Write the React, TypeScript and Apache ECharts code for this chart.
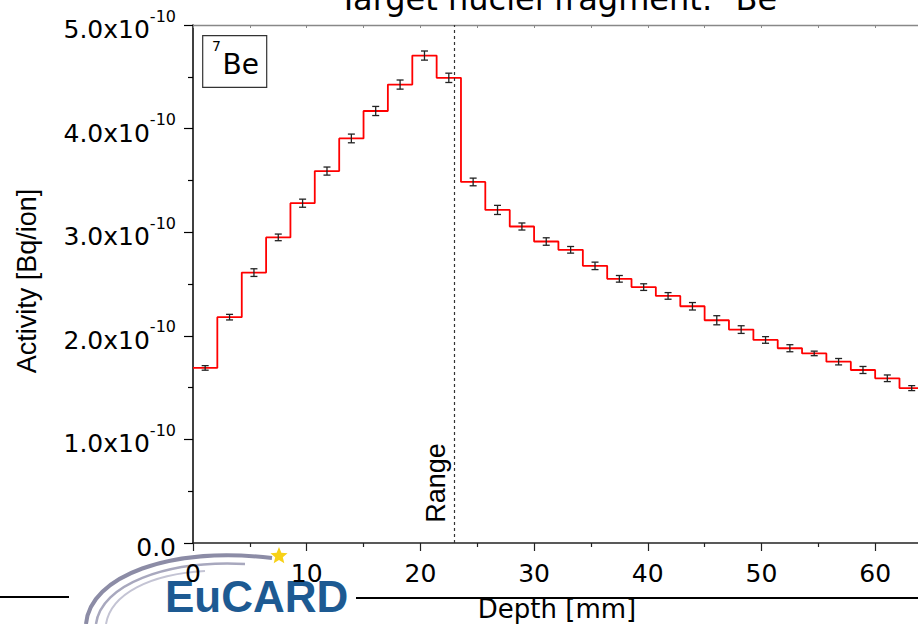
import React, { useEffect, useRef } from "react";
import * as echarts from "echarts";

// Bin edges along depth [mm]
const EDGES = [0, 2.14, 4.29, 6.43, 8.57, 10.71, 12.86, 15.0, 17.14, 19.29, 21.43, 23.57, 25.71, 27.86, 30.0, 32.14, 34.29, 36.43, 38.57, 40.71, 42.86, 45.0, 47.14, 49.29, 51.43, 53.57, 55.71, 57.86, 60.0, 62.14, 64.29];
// Activity per bin, in units of 1e-10 Bq/ion
const VALUES = [1.69, 2.18, 2.61, 2.95, 3.28, 3.59, 3.905, 4.17, 4.425, 4.705, 4.49, 3.485, 3.215, 3.055, 2.91, 2.83, 2.675, 2.55, 2.47, 2.385, 2.285, 2.15, 2.06, 1.96, 1.88, 1.83, 1.75, 1.67, 1.59, 1.495];
// Error (half-width), same units
const ERRORS = [0.022, 0.027, 0.037, 0.032, 0.039, 0.039, 0.042, 0.044, 0.044, 0.044, 0.045, 0.037, 0.044, 0.034, 0.036, 0.032, 0.036, 0.032, 0.032, 0.032, 0.036, 0.044, 0.037, 0.032, 0.034, 0.022, 0.031, 0.034, 0.032, 0.024];
const RANGE_DEPTH = 23;
const TITLE = "Target nuclei fragment: ";
const NUCLIDE_MASS = "7";
const NUCLIDE = "Be";

const SANS = "'DejaVu Sans', sans-serif";
const ARIAL = "'Liberation Sans', Arial, sans-serif";

function starPoints(cx: number, cy: number, ro: number, ri: number) {
  const pts: number[][] = [];
  for (let k = 0; k < 10; k++) {
    const r = k % 2 === 0 ? ro : ri;
    const a = -Math.PI / 2 + (k * Math.PI) / 5;
    pts.push([cx + r * Math.cos(a), cy + r * Math.sin(a)]);
  }
  return pts;
}

export default function App() {
  const ref = useRef<HTMLDivElement>(null);
  useEffect(() => {
    if (!ref.current) return;
    const chart = echarts.init(ref.current, null, { renderer: "svg" });
    const stepData = EDGES.map((e, i) => [e, VALUES[Math.min(i, VALUES.length - 1)]]);
    const errData = VALUES.map((v, i) => [(EDGES[i] + EDGES[i + 1]) / 2, v - ERRORS[i], v + ERRORS[i]]);

    chart.setOption({
      animation: false,
      backgroundColor: "#fff",
      grid: { left: 193, top: 25, right: 0, bottom: 81, containLabel: false },
      xAxis: [
        {
          type: "value",
          position: "bottom",
          min: 0,
          max: 65,
          interval: 10,
          axisLine: { show: true, onZero: false, lineStyle: { color: "#222", width: 1.5 } },
          axisTick: { show: true, inside: false, length: 8, lineStyle: { color: "#222", width: 1.2 } },
          minorTick: { show: true, splitNumber: 2, length: 4, lineStyle: { color: "#222", width: 1.2 } },
          splitLine: { show: false },
          axisLabel: { fontFamily: SANS, fontSize: 25, lineHeight: 25, color: "#000", margin: 18, showMaxLabel: false },
        },
        {
          type: "value",
          position: "top",
          min: 0,
          max: 65,
          interval: 5,
          axisLine: { show: true, onZero: false, lineStyle: { color: "#888", width: 1.3 } },
          axisTick: { show: true, inside: true, length: 3, lineStyle: { color: "#888", width: 1 } },
          axisLabel: { show: false },
          splitLine: { show: false },
        },
      ],
      yAxis: {
        type: "value",
        min: 0,
        max: 5,
        interval: 1,
        axisLine: { show: true, onZero: false, lineStyle: { color: "#000", width: 1.5 } },
        axisTick: { show: true, inside: false, length: 9, lineStyle: { color: "#000", width: 1.2 } },
        minorTick: { show: true, splitNumber: 2, length: 5, lineStyle: { color: "#000", width: 1.2 } },
        splitLine: { show: false },
        axisLabel: {
          margin: 17,
          formatter: (v: number) => (v === 0 ? "{a|0.0}" : `{a|${v.toFixed(1)}x10}{b|-10}`),
          rich: {
            a: { fontFamily: SANS, fontSize: 25, lineHeight: 34, verticalAlign: "bottom", color: "#000" },
            b: { fontFamily: SANS, fontSize: 16, lineHeight: 14, verticalAlign: "top", color: "#000" },
          },
        },
      },
      series: [
        {
          type: "line",
          data: stepData,
          step: "end",
          symbol: "none",
          lineStyle: { color: "#ff0000", width: 1.8 },
          z: 2,
          markLine: {
            silent: true,
            symbol: ["none", "none"],
            label: { show: false },
            lineStyle: { color: "#333", width: 1.2, type: [3, 3] },
            data: [{ xAxis: RANGE_DEPTH }],
          },
        },
        {
          type: "custom",
          data: errData,
          encode: { x: 0, y: [1, 2] },
          z: 3,
          renderItem: (params: any, api: any) => {
            const x = api.value(0);
            const lo = api.coord([x, api.value(1)]);
            const hi = api.coord([x, api.value(2)]);
            const w = 3.5;
            const st = { stroke: "#222", lineWidth: 1.3 };
            return {
              type: "group",
              children: [
                { type: "line", shape: { x1: lo[0], y1: lo[1], x2: hi[0], y2: hi[1] }, style: st },
                { type: "line", shape: { x1: lo[0] - w, y1: lo[1], x2: lo[0] + w, y2: lo[1] }, style: st },
                { type: "line", shape: { x1: hi[0] - w, y1: hi[1], x2: hi[0] + w, y2: hi[1] }, style: st },
              ],
            };
          },
        },
      ],
      graphic: {
        elements: [
          // Title (clipped at top)
          {
            type: "text",
            x: 558,
            y: -1,
            style: {
              text: `{n|${TITLE}}{s|${NUCLIDE_MASS}}{n|${NUCLIDE}}`,
              align: "center",
              verticalAlign: "middle",
              rich: {
                n: { fontFamily: SANS, fontSize: 32, lineHeight: 40, fill: "#000" },
                s: { fontFamily: SANS, fontSize: 20, lineHeight: 20, verticalAlign: "top", fill: "#000" },
              },
            },
          },
          // 7Be legend box
          {
            type: "rect",
            shape: { x: 202.7, y: 35.7, width: 64, height: 51.6 },
            style: { fill: "#fff", stroke: "#333", lineWidth: 1.2 },
            z: 5,
          },
          {
            type: "text",
            x: 212,
            y: 46,
            z: 6,
            style: { text: NUCLIDE_MASS, fontFamily: SANS, fontSize: 14, fill: "#000", align: "left", verticalAlign: "middle" },
          },
          {
            type: "text",
            x: 222.5,
            y: 64.5,
            z: 6,
            style: { text: NUCLIDE, fontFamily: SANS, fontSize: 28, fill: "#000", align: "left", verticalAlign: "middle" },
          },
          // Range label
          {
            type: "text",
            x: 436,
            y: 483,
            rotation: Math.PI / 2,
            z: 6,
            style: { text: "Range", fontFamily: ARIAL, fontSize: 27, fill: "#000", align: "center", verticalAlign: "middle" },
          },
          // Y axis title
          {
            type: "text",
            x: 27,
            y: 281,
            rotation: Math.PI / 2,
            style: { text: "Activity [Bq/ion]", fontFamily: ARIAL, fontSize: 27, fill: "#000", align: "center", verticalAlign: "middle" },
          },
          // Footer lines
          { type: "line", shape: { x1: 0, y1: 597, x2: 69, y2: 597 }, style: { stroke: "#000", lineWidth: 2 }, z: -2 },
          { type: "line", shape: { x1: 356, y1: 598, x2: 940, y2: 598 }, style: { stroke: "#000", lineWidth: 2 }, z: -2 },
          // X axis title
          {
            type: "text",
            x: 557,
            y: 609,
            style: { text: "Depth [mm]", fontFamily: SANS, fontSize: 26, fill: "#000", align: "center", verticalAlign: "middle" },
          },
          // EuCARD logo
          {
            type: "bezierCurve",
            z: -3,
            shape: { x1: 86, y1: 624, cpx1: 90, cpy1: 576, cpx2: 170, cpy2: 546, x2: 272, y2: 558 },
            style: { stroke: "#8c8ca6", lineWidth: 4, fill: "none" },
          },
          {
            type: "bezierCurve",
            z: -3,
            shape: { x1: 96, y1: 624, cpx1: 101, cpy1: 585, cpx2: 165, cpy2: 560, x2: 245, y2: 564 },
            style: { stroke: "#a8a8be", lineWidth: 2.5, fill: "none" },
          },
          {
            type: "bezierCurve",
            z: -3,
            shape: { x1: 106, y1: 624, cpx1: 111, cpy1: 594, cpx2: 150, cpy2: 574, x2: 205, y2: 571 },
            style: { stroke: "#c4c4d4", lineWidth: 2, fill: "none" },
          },
          {
            type: "polygon",
            z: -3,
            shape: { points: starPoints(279, 556, 9, 4) },
            style: { fill: "#f7d117" },
          },
          {
            type: "text",
            x: 165,
            y: 596.5,
            z: -3,
            style: { text: "EuCARD", fontFamily: ARIAL, fontWeight: "bold", fontSize: 44, fill: "#1d5a92", align: "left", verticalAlign: "middle" },
          },
        ],
      },
    });
    return () => chart.dispose();
  }, []);
  return (
    <div style={{ position: "absolute", left: 0, top: 0, width: 918, height: 624, overflow: "hidden", background: "#fff" }}>
      <div ref={ref} style={{ position: "absolute", left: 0, top: 0, width: 932, height: 624 }} />
    </div>
  );
}
